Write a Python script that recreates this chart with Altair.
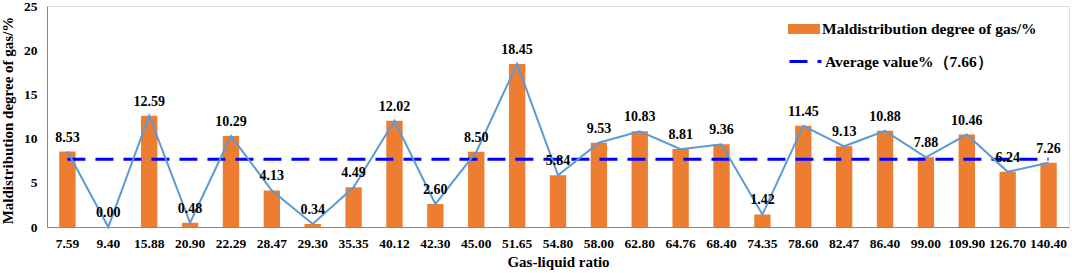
import altair as alt
import pandas as pd

ratios = ["7.59", "9.40", "15.88", "20.90", "22.29", "28.47", "29.30", "35.35",
          "40.12", "42.30", "45.00", "51.65", "54.80", "58.00", "62.80", "64.76",
          "68.40", "74.35", "78.60", "82.47", "86.40", "99.00", "109.90", "126.70",
          "140.40"]
values = [8.53, 0.00, 12.59, 0.48, 10.29, 4.13, 0.34, 4.49, 12.02, 2.60, 8.50,
          18.45, 5.84, 9.53, 10.83, 8.81, 9.36, 1.42, 11.45, 9.13, 10.88, 7.88,
          10.46, 6.24, 7.26]
avg_value = 7.66
y_ticks = [0, 5, 10, 15, 20, 25]
bar_name = "Maldistribution degree of gas/%"
avg_name = "Average value%（7.66）"

df = pd.DataFrame({
    "ratio": ratios,
    "value": values,
    "avg": [avg_value] * len(ratios),
    "series": [bar_name] * len(ratios),
    "avgseries": [avg_name] * len(ratios),
})

FONT = "'Liberation Serif', 'Times New Roman', 'DejaVu Serif', serif"
ORANGE = "#ED7D31"
LIGHTBLUE = "#5B9BD5"
BLUE = "#0000FF"

xscale = alt.Scale(paddingInner=0.6, paddingOuter=0.3)
x_enc = alt.X("ratio:N", sort=None, title="Gas-liquid ratio", scale=xscale,
              axis=alt.Axis(labelAngle=0, ticks=False, labelPadding=9, titlePadding=5,
                            labelFont=FONT, labelFontWeight="bold", labelFontSize=13.5,
                            titleFont=FONT, titleFontWeight="bold", titleFontSize=15,
                            labelColor="black", titleColor="black", grid=False))
y_enc = alt.Y("value:Q", title="Maldistribution degree of gas/%",
              scale=alt.Scale(domain=[0, 25], nice=False),
              axis=alt.Axis(values=y_ticks, ticks=False, labelPadding=10, titlePadding=8,
                            labelFont=FONT, labelFontWeight="bold", labelFontSize=13.5,
                            titleFont=FONT, titleFontWeight="bold", titleFontSize=15,
                            titleY=114,
                            labelColor="black", titleColor="black", grid=False))

legend_common = dict(title=None, orient="none", labelOffset=2, labelFont=FONT,
                     labelFontWeight="bold", labelFontSize=15.5, labelColor="black",
                     labelLimit=400, symbolSize=1024)

bars = alt.Chart(df).mark_bar(opacity=1).encode(
    x=x_enc,
    y=y_enc,
    color=alt.Color("series:N", scale=alt.Scale(domain=[bar_name], range=[ORANGE]),
                    legend=alt.Legend(legendX=741, legendY=7,
                                      symbolType="M-1,-0.3125H1V0.3125H-1Z",
                                      symbolStrokeWidth=0, symbolOpacity=1,
                                      **legend_common)),
)

avg = alt.Chart(df).mark_line(color=BLUE, strokeWidth=3).encode(
    x=alt.X("ratio:N", sort=None, scale=xscale),
    y=alt.Y("avg:Q"),
    strokeDash=alt.StrokeDash("avgseries:N",
                              scale=alt.Scale(domain=[avg_name], range=[[18, 10]]),
                              legend=alt.Legend(legendX=741, legendY=38,
                                                symbolType="stroke",
                                                symbolStrokeColor=BLUE,
                                                symbolStrokeWidth=3,
                                                **legend_common)),
)

line = alt.Chart(df).mark_line(color=LIGHTBLUE, strokeWidth=2).encode(
    x=alt.X("ratio:N", sort=None, scale=xscale),
    y=alt.Y("value:Q"),
)

labels = alt.Chart(df).mark_text(dy=-7, baseline="bottom", font=FONT, fontWeight="bold",
                                 fontSize=14, color="black").encode(
    x=alt.X("ratio:N", sort=None, scale=xscale),
    y=alt.Y("value:Q"),
    text=alt.Text("value:Q", format=".2f"),
)

chart = alt.layer(bars, avg, line, labels).properties(
    width=1022, height=221,
    autosize=alt.AutoSizeParams(type="none"),
    padding={"left": 47, "top": 6, "right": 3, "bottom": 46},
).configure_view(
    stroke="black", strokeWidth=1
).configure_axis(
    domainColor="black", domainWidth=1,
).configure(background="white", font=FONT)

chart.save("out.html", embed_options={"renderer": "svg", "actions": False})
